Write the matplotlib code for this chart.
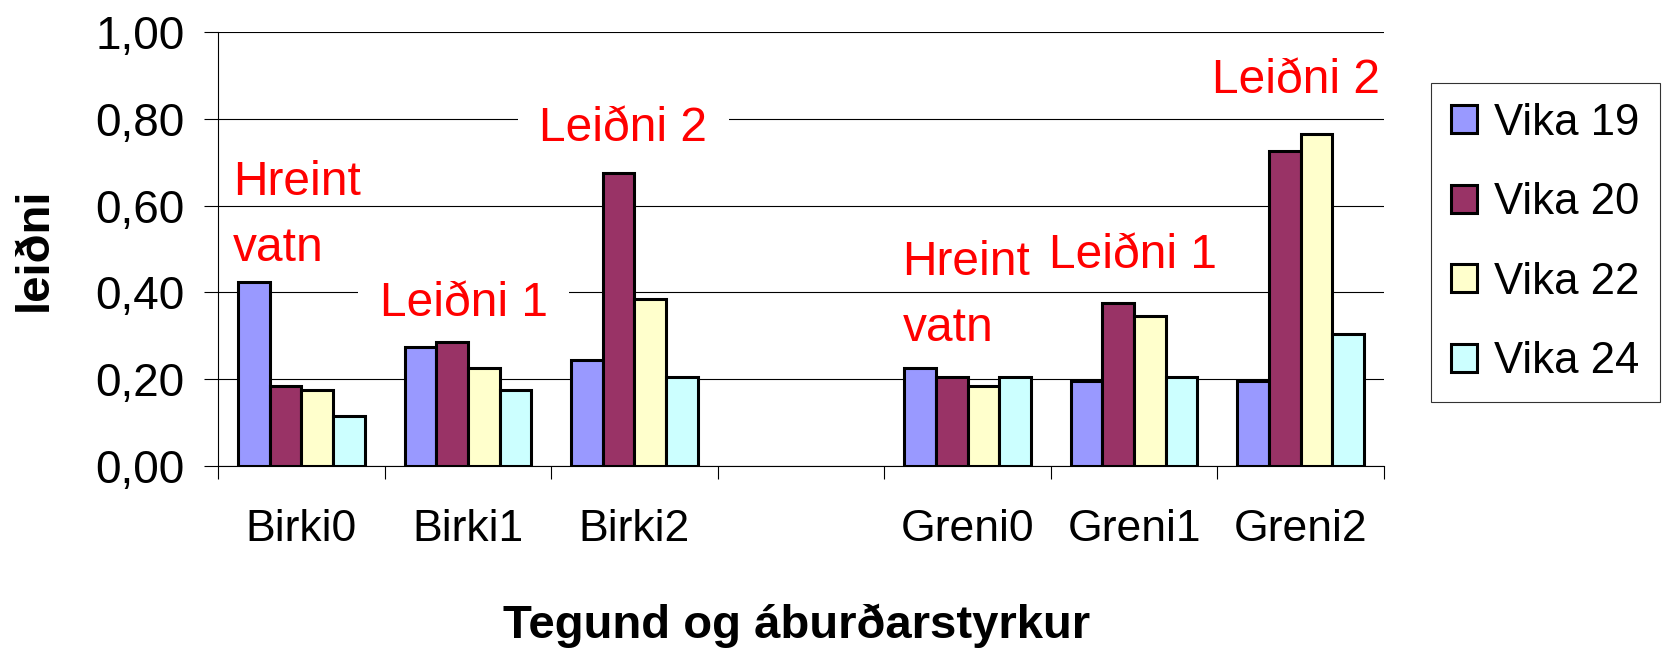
import numpy as np
import matplotlib
matplotlib.use('Agg')
import matplotlib.pyplot as plt
from matplotlib.ticker import FuncFormatter

plt.rcParams['font.family'] = ['Liberation Sans', 'DejaVu Sans']

# data
categories = ['Birki0', 'Birki1', 'Birki2', '', 'Greni0', 'Greni1', 'Greni2']
vika19 = [0.425, 0.275, 0.245, np.nan, 0.225, 0.195, 0.195]
vika20 = [0.185, 0.285, 0.675, np.nan, 0.205, 0.375, 0.725]
vika22 = [0.175, 0.225, 0.385, np.nan, 0.185, 0.345, 0.765]
vika24 = [0.115, 0.175, 0.205, np.nan, 0.205, 0.205, 0.305]
series_labels = ['Vika 19', 'Vika 20', 'Vika 22', 'Vika 24']
colors = ['#9999FF', '#993366', '#FFFFCC', '#CCFFFF']

# red notes on the plot: (text, x, y, vertical align, white box)
notes = [
    ('Hreint\nvatn', -0.41, 0.705, 'top', False),
    ('Leiðni 1', 0.47, 0.346, 'baseline', True),
    ('Leiðni 2', 1.43, 0.749, 'baseline', True),
    ('Hreint\nvatn', 3.61, 0.52, 'top', False),
    ('Leiðni 1', 4.49, 0.457, 'baseline', False),
    ('Leiðni 2', 5.47, 0.860, 'baseline', False),
]

W, H = 1663, 648
fig = plt.figure(figsize=(W / 100, H / 100), dpi=100)
ax = fig.add_axes([218 / W, 1 - 466 / H, (1384 - 218) / W, (466 - 32) / H])

x = np.arange(len(categories))
w = 0.19
for i, (vals, col, lab) in enumerate(zip([vika19, vika20, vika22, vika24], colors, series_labels)):
    ax.bar(x + (i - 1.5) * w, vals, w, color=col, edgecolor='black',
           linewidth=2.2, label=lab, zorder=3)

ax.set_xlim(-0.5, len(categories) - 0.5)
ax.set_ylim(0, 1)
ax.set_yticks(np.arange(0, 1.01, 0.2))
ax.yaxis.set_major_formatter(FuncFormatter(lambda v, p: f'{v:.2f}'.replace('.', ',')))
ax.yaxis.grid(True, color='black', linewidth=0.8, zorder=0)
ax.set_axisbelow(True)
ax.tick_params(axis='y', direction='out', length=10, width=0.8, labelsize=33, pad=14)

ax.set_xticks(x)
ax.set_xticklabels(categories)
ax.set_xticks(np.arange(-0.5, len(categories), 1), minor=True)
ax.tick_params(axis='x', which='major', length=0, labelsize=32, pad=31)
ax.tick_params(axis='x', which='minor', direction='out', length=9.5, width=0.8)

for s in ['top', 'right']:
    ax.spines[s].set_visible(False)
for s in ['left', 'bottom']:
    ax.spines[s].set_linewidth(0.8)

for txt, tx, ty, va, boxed in notes:
    kw = {}
    if boxed:
        kw['bbox'] = dict(boxstyle='square,pad=0.45', facecolor='white', edgecolor='none')
    ax.text(tx, ty, txt, color='red', fontsize=34.5, ha='left', va=va,
            linespacing=1.6, zorder=2, **kw)

fig.text(35 / W, 1 - 249 / H, 'leiðni', rotation=90, fontsize=34,
         fontweight='bold', ha='center', va='center')
fig.text(797 / W, 1 - 638 / H, 'Tegund og áburðarstyrkur', fontsize=34,
         fontweight='bold', ha='center', va='baseline')

leg = fig.legend(loc='upper left', bbox_to_anchor=(1431 / W, 1 - 83 / H),
                 fontsize=31.5, frameon=True, fancybox=False, handlelength=0.6,
                 handleheight=0.6, handletextpad=0.4, labelspacing=0.88,
                 borderpad=0.45, borderaxespad=0)
leg.get_frame().set_edgecolor('black')
leg.get_frame().set_linewidth(0.8)

fig.savefig('out.png', dpi=100)
